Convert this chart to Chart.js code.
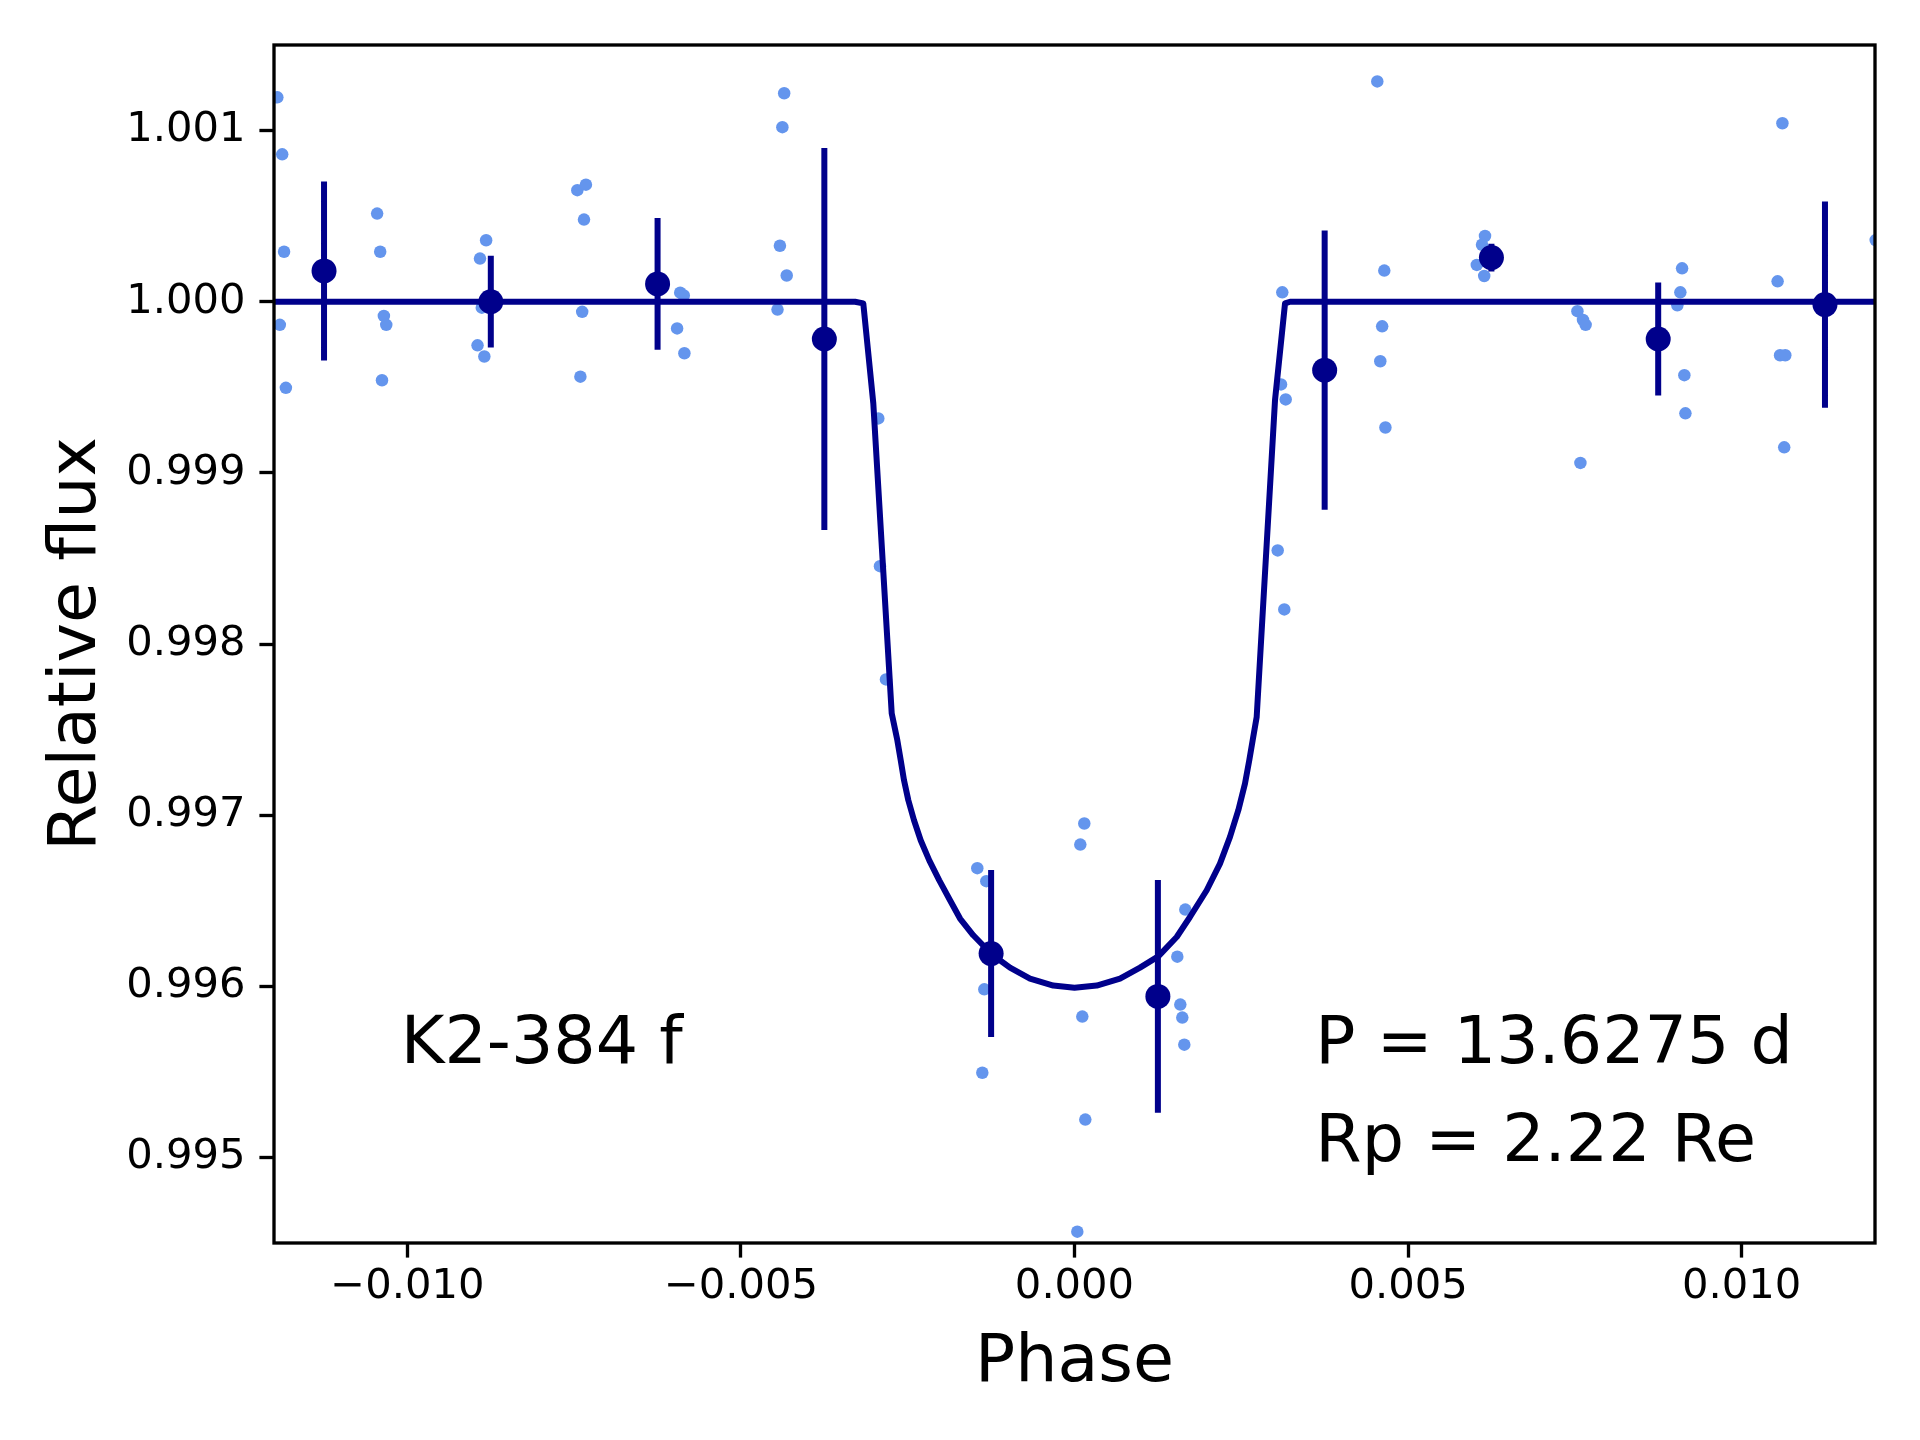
<!DOCTYPE html>
<html>
<head>
<meta charset="utf-8">
<title>K2-384 f phase-folded transit</title>
<script src="https://cdn.jsdelivr.net/npm/chart.js@4.4.1/dist/chart.umd.min.js"></script>
<style>
  html, body { margin: 0; padding: 0; background: #fff; }
  #chart { display: block; }
</style>
</head>
<body>
<canvas id="chart" width="1920" height="1440"></canvas>
<script>
// unbinned K2 photometry, folded on the period
const rawPhase = [
  -0.01195, -0.011877, -0.011849, -0.011913, -0.011822,
  -0.010454, -0.010408, -0.010353, -0.010317, -0.010381,
  -0.00882, -0.008912, -0.008885, -0.008949, -0.008847,
  -0.007453, -0.007324, -0.007353, -0.00738, -0.007407,
  -0.005911, -0.005857, -0.005957, -0.005848,
  -0.004352, -0.004379, -0.004416, -0.004314, -0.004452,
  -0.002941, -0.002916, -0.002826,
  -0.001457, -0.001322, -0.001352, -0.001382,
  0.000147, 0.000087, 0.000117, 0.000162, 0.000042,
  0.001661, 0.001541, 0.001586, 0.001616, 0.001646,
  0.003115, 0.003096, 0.003166, 0.003046, 0.003145,
  0.004539, 0.004644, 0.004612, 0.004584, 0.004661,
  0.006154, 0.006109, 0.006031, 0.006142,
  0.007539, 0.007623, 0.007662, 0.007584,
  0.009108, 0.009082, 0.009037, 0.009142, 0.009158,
  0.010612, 0.01054, 0.010577, 0.010655, 0.010639,
  0.01201
];
const rawFlux = [
  1.001194, 1.000861, 1.000292, 0.999865, 0.999497,
  1.000515, 1.000292, 0.999917, 0.999865, 0.999541,
  1.000359, 1.000252, 0.999965, 0.999745, 0.99968,
  1.000652, 1.000684, 1.00048, 0.999941, 0.999562,
  1.000053, 1.000037, 0.999844, 0.999699,
  1.001218, 1.00102, 1.000327, 1.000153, 0.999954,
  0.999318, 0.998455, 0.997793,
  0.99669, 0.996614, 0.995982, 0.995495,
  0.996951, 0.996828, 0.995823, 0.995221, 0.994566,
  0.996448, 0.996173, 0.995893, 0.995817, 0.995659,
  1.000055, 0.999517, 0.999429, 0.998547, 0.998202,
  1.001287, 1.000182, 0.999856, 0.999652, 0.999265,
  1.000384, 1.000333, 1.000215, 1.00015,
  0.999945, 0.999893, 0.999865, 0.999058,
  1.000195, 1.000055, 0.999979, 0.999571, 0.999348,
  1.001043, 1.000119, 0.999687, 0.999687, 0.999149,
  1.00036
];

// binned points with 1-sigma errors
const binPhase = [-0.01125, -0.00875, -0.00625, -0.00375, -0.00125, 0.00125, 0.00375, 0.00625, 0.00875, 0.01125];
const binFlux = [1.00018, 1.0, 1.000104, 0.999782, 0.996191, 0.995941, 0.9996, 1.000258, 0.999782, 0.999983];
const binErr = [0.000523, 0.000268, 0.000385, 0.001116, 0.000488, 0.00068, 0.000816, 0.000081, 0.00033, 0.000602];

// transit model
const modelPhase = [
  -0.012, -0.00329, -0.003166, -0.003016, -0.00274,
  -0.002656, -0.002605, -0.002556, -0.002491, -0.002406, -0.002306, -0.002177,
  -0.002027, -0.001866, -0.001716, -0.001517, -0.001241, -0.000967, -0.000667, -0.000318,
  0,
  0.000333, 0.000682, 0.000982, 0.001256, 0.001532, 0.001731, 0.001982, 0.002181,
  0.002331, 0.002456, 0.002556, 0.00262, 0.002671,
  0.002731, 0.003006, 0.003156, 0.003231, 0.012
];
const modelFlux = [
  1.0, 1.0, 0.99999, 0.999406, 0.997594,
  0.997438, 0.997321, 0.997204, 0.997087, 0.99697, 0.996853, 0.996736,
  0.996619, 0.996503, 0.996396, 0.996298, 0.996187, 0.996109, 0.996045, 0.996004,
  0.995992,
  0.996004, 0.996045, 0.996109, 0.996175, 0.996288, 0.996405, 0.996561, 0.996717,
  0.996873, 0.997029, 0.997185, 0.997321, 0.997438,
  0.997574, 0.999425, 0.99999, 1.0, 1.0
];

const xTicks = [-0.01, -0.005, 0, 0.005, 0.01];
const xTickLabels = ["\u22120.010", "\u22120.005", "0.000", "0.005", "0.010"];
const yTicks = [0.995, 0.996, 0.997, 0.998, 0.999, 1.0, 1.001];
const yTickLabels = ["0.995", "0.996", "0.997", "0.998", "0.999", "1.000", "1.001"];

const planetName = "K2-384 f";
const infoLines = ["P = 13.6275 d", "Rp = 2.22 Re"];

const FONT = "DejaVu Sans";
const DARK = "#00008b";
const LIGHT = "#6495ed";

Chart.defaults.font.family = FONT;
Chart.defaults.color = "#000";

const rawPoints = rawPhase.map((p, i) => ({ x: p, y: rawFlux[i] }));
const binPoints = binPhase.map((p, i) => ({ x: p, y: binFlux[i] }));
const modelPoints = modelPhase.map((p, i) => ({ x: p, y: modelFlux[i] }));

// vertical error bars as separate segments (null breaks the line)
const errorSegments = [];
binPhase.forEach((p, i) => {
  errorSegments.push({ x: p, y: binFlux[i] - binErr[i] });
  errorSegments.push({ x: p, y: binFlux[i] + binErr[i] });
  errorSegments.push({ x: p, y: null });
});

const labelFor = (ticks, labels) => (value) => {
  const i = ticks.findIndex((t) => Math.abs(t - value) < 1e-9);
  return i < 0 ? "" : labels[i];
};

// frame around the axes + the text annotations
const framePlugin = {
  id: "frame",
  afterDatasetsDraw(chart) {
    const { ctx, chartArea: a } = chart;
    ctx.save();
    ctx.strokeStyle = "#000";
    ctx.lineWidth = 3.33;
    ctx.strokeRect(a.left, a.top, a.right - a.left, a.bottom - a.top);
    ctx.restore();
  },
  afterDraw(chart) {
    const { ctx } = chart;
    const xs = chart.scales.x;
    const ys = chart.scales.y;
    ctx.save();
    ctx.fillStyle = "#000";
    ctx.font = `66.67px "${FONT}"`;
    ctx.textAlign = "left";
    ctx.textBaseline = "alphabetic";
    const base = ys.getPixelForValue(0.99555);
    ctx.fillText(planetName, xs.getPixelForValue(-0.0101), base);
    const infoX = xs.getPixelForValue(0.00361);
    infoLines.forEach((line, i) => {
      ctx.fillText(line, infoX, base + i * 97.3);
    });
    ctx.restore();
  },
};

new Chart(document.getElementById("chart"), {
  type: "scatter",
  data: {
    datasets: [
      {
        label: "binned",
        data: binPoints,
        order: 0,
        pointRadius: 12.5,
        pointBackgroundColor: DARK,
        pointBorderWidth: 0,
        showLine: false,
        clip: 0,
      },
      {
        label: "errors",
        data: errorSegments,
        order: 1,
        showLine: true,
        spanGaps: false,
        borderColor: DARK,
        borderWidth: 6,
        borderCapStyle: "butt",
        pointRadius: 0,
        clip: 0,
      },
      {
        label: "model",
        data: modelPoints,
        order: 2,
        showLine: true,
        tension: 0,
        borderColor: DARK,
        borderWidth: 6,
        borderJoinStyle: "round",
        pointRadius: 0,
        clip: 0,
      },
      {
        label: "data",
        data: rawPoints,
        order: 3,
        pointRadius: 6.25,
        pointBackgroundColor: LIGHT,
        pointBorderWidth: 0,
        showLine: false,
        clip: 0,
      },
    ],
  },
  options: {
    responsive: false,
    maintainAspectRatio: false,
    devicePixelRatio: 1,
    animation: false,
    events: [],
    layout: { padding: { left: 0, top: 45, right: 45, bottom: 0 } },
    plugins: {
      legend: { display: false },
      tooltip: { enabled: false },
    },
    scales: {
      x: {
        type: "linear",
        position: "bottom",
        min: -0.012,
        max: 0.012,
        afterBuildTicks: (scale) => {
          scale.ticks = xTicks.map((v) => ({ value: v }));
        },
        afterFit: (scale) => {
          scale.height = 197;
          scale.paddingLeft = 0;
          scale.paddingRight = 0;
        },
        grid: {
          drawOnChartArea: false,
          drawTicks: true,
          tickLength: 14.6,
          tickWidth: 3.33,
          tickColor: "#000",
        },
        border: { display: false },
        ticks: {
          autoSkip: false,
          maxRotation: 0,
          minRotation: 0,
          padding: 5,
          color: "#000",
          font: { size: 41.67 },
          callback: labelFor(xTicks, xTickLabels),
        },
        title: {
          display: true,
          text: "Phase",
          color: "#000",
          font: { size: 66.67 },
          padding: { top: 0, bottom: 36 },
        },
      },
      y: {
        type: "linear",
        position: "left",
        min: 0.9945,
        max: 1.0015,
        afterBuildTicks: (scale) => {
          scale.ticks = yTicks.map((v) => ({ value: v }));
        },
        afterFit: (scale) => {
          scale.width = 274;
          scale.paddingTop = 0;
          scale.paddingBottom = 0;
        },
        grid: {
          drawOnChartArea: false,
          drawTicks: true,
          tickLength: 14.6,
          tickWidth: 3.33,
          tickColor: "#000",
        },
        border: { display: false },
        ticks: {
          autoSkip: false,
          padding: 14,
          color: "#000",
          font: { size: 41.67 },
          callback: labelFor(yTicks, yTickLabels),
        },
        title: {
          display: true,
          text: "Relative flux",
          color: "#000",
          font: { size: 66.67 },
          padding: { top: 38, bottom: 0 },
        },
      },
    },
  },
  plugins: [framePlugin],
});
</script>
</body>
</html>
